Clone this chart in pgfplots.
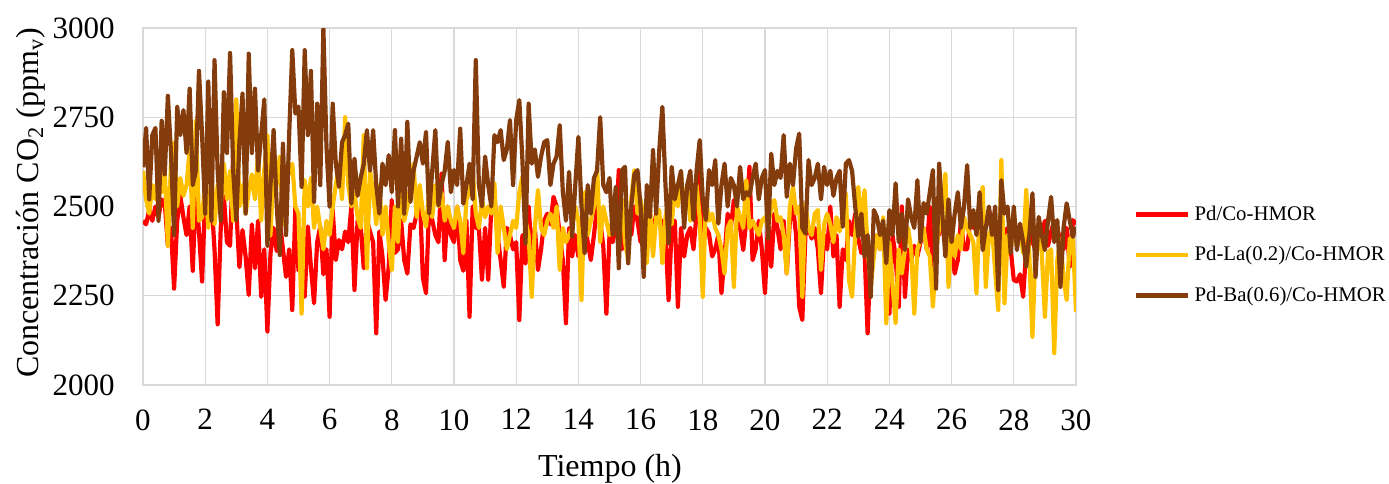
\documentclass[border=0pt]{standalone}
\usepackage{pgfplots}
\pgfplotsset{compat=1.18}
\usepackage{pgfplotstable}
\usepackage{fontspec}
\setmainfont{Liberation Serif}
\definecolor{cred}{HTML}{FF0000}
\definecolor{cyel}{HTML}{FFC000}
\definecolor{cbrn}{HTML}{843C0C}
\definecolor{cgrid}{HTML}{D9D9D9}

\pgfplotstableread{
t r y b
0.0 2460 2600 2610
0.1 2450 2520 2720
0.2 2490 2480 2520
0.3 2460 2560 2700
0.4 2500 2520 2720
0.5 2470 2600 2460
0.6 2520 2540 2740
0.7 2510 2600 2590
0.8 2390 2390 2810
0.9 2440 2620 2650
1.0 2270 2680 2420
1.1 2460 2500 2780
1.2 2530 2580 2700
1.3 2470 2530 2770
1.4 2420 2560 2650
1.5 2500 2660 2830
1.6 2320 2440 2560
1.7 2550 2740 2600
1.8 2430 2460 2880
1.9 2290 2470 2700
2.0 2530 2570 2480
2.1 2460 2440 2850
2.2 2520 2600 2460
2.3 2380 2450 2910
2.4 2170 2560 2600
2.5 2440 2500 2460
2.6 2530 2620 2820
2.7 2400 2520 2650
2.8 2390 2600 2930
2.9 2640 2460 2600
3.0 2490 2800 2460
3.1 2330 2500 2680
3.2 2434 2560 2816
3.3 2360 2480 2480
3.4 2252 2540 2928
3.5 2450 2590 2650
3.6 2327 2520 2830
3.7 2460 2650 2600
3.8 2247 2460 2700
3.9 2380 2600 2800
4.0 2150 2700 2390
4.1 2369 2420 2560
4.2 2440 2620 2714
4.3 2375 2560 2500
4.4 2460 2640 2364
4.5 2380 2450 2676
4.6 2303 2600 2420
4.7 2380 2592 2700
4.8 2210 2620 2938
4.9 2500 2500 2760
5.0 2320 2480 2780
5.1 2390 2200 2555
5.2 2247 2574 2938
5.3 2444 2500 2700
5.4 2330 2580 2880
5.5 2229 2440 2513
5.6 2400 2500 2788
5.7 2444 2440 2560
5.8 2310 2380 3000
5.9 2380 2460 2667
6.0 2191 2420 2500
6.1 2490 2500 2788
6.2 2350 2560 2620
6.3 2406 2620 2555
6.4 2380 2520 2680
6.5 2430 2750 2700
6.6 2400 2560 2732
6.7 2500 2500 2508
6.8 2266 2540 2634
6.9 2460 2470 2530
7.0 2440 2440 2580
7.1 2327 2700 2620
7.2 2460 2327 2714
7.3 2430 2600 2600
7.4 2400 2540 2714
7.5 2145 2450 2560
7.6 2430 2560 2480
7.7 2360 2420 2620
7.8 2238 2500 2560
7.9 2330 2400 2644
8.0 2518 2322 2540
8.1 2370 2500 2714
8.2 2380 2400 2500
8.3 2460 2583 2690
8.4 2350 2460 2480
8.5 2312 2500 2737
8.6 2450 2560 2513
8.7 2440 2620 2600
8.8 2480 2470 2640
8.9 2537 2560 2680
9.0 2300 2480 2620
9.1 2257 2443 2709
9.2 2500 2540 2480
9.3 2462 2470 2600
9.4 2420 2560 2714
9.5 2400 2500 2503
9.6 2592 2540 2560
9.7 2350 2460 2600
9.8 2500 2500 2681
9.9 2420 2460 2540
10.0 2400 2440 2602
10.1 2500 2500 2560
10.2 2350 2460 2718
10.3 2320 2369 2508
10.4 2460 2520 2560
10.5 2191 2540 2620
10.6 2500 2600 2520
10.7 2440 2480 2910
10.8 2440 2440 2560
10.9 2294 2520 2500
11.0 2440 2470 2640
11.1 2294 2500 2560
11.2 2500 2480 2500
11.3 2527 2565 2700
11.4 2420 2369 2680
11.5 2350 2500 2714
11.6 2275 2440 2630
11.7 2440 2380 2660
11.8 2420 2420 2742
11.9 2380 2460 2560
12.0 2400 2440 2742
12.1 2182 2540 2798
12.2 2420 2583 2630
12.3 2340 2460 2397
12.4 2500 2420 2788
12.5 2360 2247 2620
12.6 2440 2440 2660
12.7 2322 2546 2583
12.8 2380 2440 2640
12.9 2460 2420 2680
13.0 2480 2460 2686
13.1 2450 2480 2560
13.2 2527 2440 2620
13.3 2500 2500 2640
13.4 2420 2322 2728
13.5 2350 2440 2540
13.6 2173 2400 2460
13.7 2440 2420 2597
13.8 2360 2440 2415
13.9 2420 2500 2560
14.0 2360 2460 2695
14.1 2460 2238 2500
14.2 2460 2540 2369
14.3 2400 2420 2560
14.4 2350 2460 2480
14.5 2420 2500 2580
14.6 2500 2611 2600
14.7 2460 2400 2750
14.8 2390 2500 2560
14.9 2200 2460 2540
15.0 2420 2420 2580
15.1 2400 2460 2420
15.2 2440 2500 2555
15.3 2602 2470 2327
15.4 2380 2520 2602
15.5 2440 2400 2611
15.6 2460 2350 2341
15.7 2420 2520 2500
15.8 2500 2602 2590
15.9 2460 2480 2602
16.0 2400 2520 2500
16.1 2440 2460 2303
16.2 2500 2341 2560
16.3 2460 2500 2470
16.4 2420 2360 2658
16.5 2480 2470 2480
16.6 2460 2490 2658
16.7 2460 2341 2779
16.8 2420 2470 2560
16.9 2238 2520 2397
17.0 2440 2450 2611
17.1 2460 2560 2520
17.2 2219 2500 2560
17.3 2440 2592 2600
17.4 2360 2480 2440
17.5 2420 2560 2560
17.6 2440 2460 2600
17.7 2380 2540 2462
17.8 2480 2560 2600
17.9 2676 2470 2686
18.0 2400 2247 2520
18.1 2440 2520 2462
18.2 2424 2460 2602
18.3 2360 2480 2560
18.4 2380 2440 2630
18.5 2420 2420 2452
18.6 2257 2380 2560
18.7 2360 2312 2620
18.8 2480 2440 2500
18.9 2440 2460 2580
19.0 2518 2275 2560
19.1 2460 2500 2500
19.2 2440 2470 2611
19.3 2378 2440 2520
19.4 2460 2574 2540
19.5 2611 2440 2530
19.6 2350 2460 2580
19.7 2380 2440 2620
19.8 2460 2420 2520
19.9 2380 2460 2580
20.0 2257 2470 2602
20.1 2462 2440 2410
20.2 2331 2500 2648
20.3 2480 2518 2560
20.4 2440 2460 2600
20.5 2380 2470 2580
20.6 2460 2420 2700
20.7 2312 2312 2527
20.8 2460 2500 2620
20.9 2500 2555 2560
21.0 2420 2480 2662
21.1 2219 2500 2704
21.2 2182 2247 2440
21.3 2420 2509 2424
21.4 2443 2440 2630
21.5 2410 2420 2560
21.6 2440 2480 2580
21.7 2380 2490 2620
21.8 2257 2322 2520
21.9 2420 2450 2611
22.0 2380 2480 2560
22.1 2500 2450 2600
22.2 2360 2400 2530
22.3 2420 2470 2580
22.4 2219 2430 2600
22.5 2380 2480 2443
22.6 2350 2537 2620
22.7 2460 2294 2630
22.8 2420 2247 2600
22.9 2480 2420 2500
23.0 2410 2555 2415
23.1 2370 2440 2480
23.2 2380 2546 2360
23.3 2145 2380 2420
23.4 2380 2275 2247
23.5 2400 2360 2490
23.6 2420 2420 2470
23.7 2380 2380 2420
23.8 2420 2470 2460
23.9 2400 2173 2341
24.0 2200 2400 2490
24.1 2420 2280 2420
24.2 2360 2173 2565
24.3 2219 2380 2400
24.4 2500 2312 2480
24.5 2247 2380 2378
24.6 2380 2440 2520
24.7 2350 2380 2470
24.8 2390 2200 2440
24.9 2360 2380 2574
25.0 2400 2406 2400
25.1 2440 2440 2510
25.2 2380 2380 2480
25.3 2500 2360 2540
25.4 2300 2219 2602
25.5 2420 2380 2270
25.6 2420 2440 2620
25.7 2460 2500 2480
25.8 2440 2592 2360
25.9 2400 2275 2520
26.0 2380 2440 2400
26.1 2312 2360 2480
26.2 2350 2420 2540
26.3 2460 2380 2440
26.4 2380 2470 2500
26.5 2380 2440 2616
26.6 2462 2420 2440
26.7 2440 2400 2490
26.8 2470 2257 2420
26.9 2450 2480 2540
27.0 2480 2555 2378
27.1 2440 2275 2440
27.2 2490 2420 2500
27.3 2460 2440 2420
27.4 2420 2320 2500
27.5 2360 2210 2266
27.6 2460 2630 2574
27.7 2420 2229 2480
27.8 2440 2420 2500
27.9 2380 2380 2369
28.0 2294 2440 2500
28.1 2290 2390 2378
28.2 2310 2440 2452
28.3 2247 2370 2400
28.4 2380 2546 2331
28.5 2450 2360 2420
28.6 2400 2135 2537
28.7 2380 2390 2303
28.8 2400 2440 2471
28.9 2420 2370 2420
29.0 2460 2191 2378
29.1 2390 2370 2460
29.2 2430 2380 2527
29.3 2460 2089 2400
29.4 2440 2350 2462
29.5 2400 2410 2275
29.6 2380 2300 2440
29.7 2440 2238 2509
29.8 2331 2410 2460
29.9 2462 2415 2415
30.0 2450 2205 2443
}\data

\begin{document}
\begin{tikzpicture}
\begin{axis}[
  at={(0pt,0pt)}, anchor=south west,
  scale only axis, width=466.5pt, height=178.5pt,
  xmin=0, xmax=30, ymin=2000, ymax=3000,
  xtick={0,2,...,30}, ytick={2000,2250,2500,2750,3000},
  grid=major, major grid style={cgrid, line width=0.6pt},
  axis line style={cgrid, line width=0.6pt},
  major tick length=0pt,
  /pgf/number format/assume math mode=true,
  /pgf/number format/1000 sep={},
  scaled ticks=false,
  tick label style={font=\fontsize{15.5}{15.5}\selectfont, black, inner sep=0pt},
  xticklabel style={anchor=north, yshift=-12pt},
  yticklabel style={anchor=east, xshift=-14pt},
  xlabel={Tiempo (h)},
  ylabel={Concentración CO\textsubscript{2} (ppm\textsubscript{v})},
  label style={font=\fontsize{16}{16}\selectfont},
  xlabel style={at={(axis description cs:0.5005,-0.255)}, anchor=base},
  ylabel style={at={(axis description cs:-0.1125,0.51)}, anchor=base, rotate=0},
  legend style={draw=none, fill=none, inner sep=0pt, at={(rel axis cs:1.0611,0.364)}, anchor=west,
    font=\fontsize{10.4}{12}\selectfont,
    nodes={inner sep=0pt, text height=8pt, text depth=2.5pt},
    row sep=9.75pt,
    /tikz/every odd column/.append style={column sep=2.5pt}},
  legend cell align=left,
  legend image code/.code={\draw[#1, line cap=butt] (0pt,0pt) -- (26pt,0pt);},
  every axis plot/.append style={line width=2.1pt, line join=round},
]
\addplot[cred] table[x=t, y=r]{\data};
\addlegendentry{Pd/Co-HMOR}
\addplot[cyel] table[x=t, y=y]{\data};
\addlegendentry{Pd-La(0.2)/Co-HMOR}
\addplot[cbrn] table[x=t, y=b]{\data};
\addlegendentry{Pd-Ba(0.6)/Co-HMOR}
\end{axis}
\pgfresetboundingbox
\useasboundingbox (-71.5pt,-49pt) rectangle (623pt,192.5pt);
\end{tikzpicture}
\end{document}
